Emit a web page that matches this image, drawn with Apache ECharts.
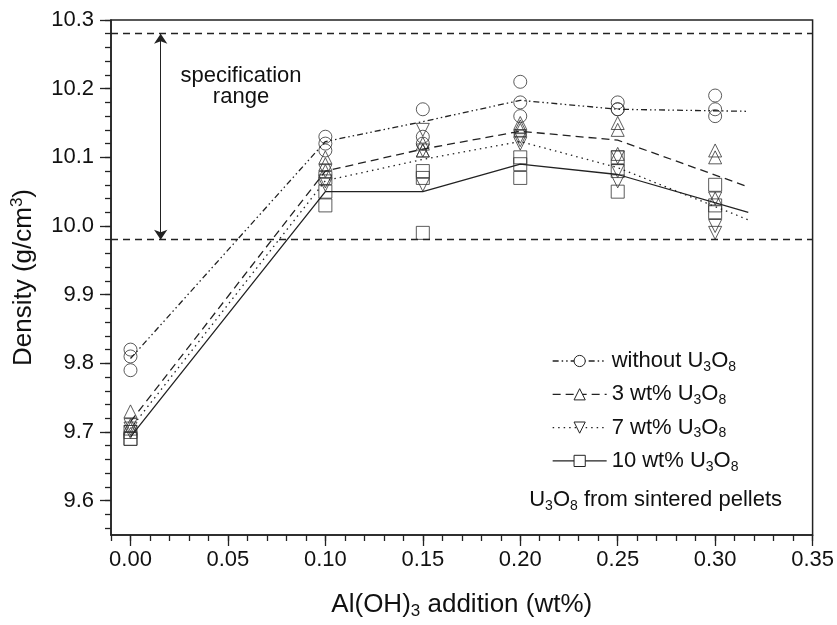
<!DOCTYPE html>
<html lang="en">
<head>
<meta charset="UTF-8">
<title>Density vs Al(OH)3 addition</title>
<script src="https://cdn.jsdelivr.net/npm/echarts@6.0.0/dist/echarts.min.js"></script>
<style>
    html, body { margin: 0; padding: 0; background: #fff; }
    #chart { width: 837px; height: 625px; }
</style>
</head>
<body>
<div id="chart"></div>
<script type="text/javascript">
// Al(OH)3 addition levels (wt%)
var xLevels = [0.00, 0.10, 0.15, 0.20, 0.25, 0.30];

// measured pellets, one row per addition level
var ptsNone = [[9.82, 9.81, 9.79], [10.13, 10.12, 10.11], [10.17, 10.13, 10.12], [10.21, 10.18, 10.16], [10.18, 10.17, 10.17], [10.19, 10.17, 10.16]];
var pts3 = [[9.73, 9.71, 9.705], [10.10, 10.09, 10.08], [10.12, 10.11, 10.11], [10.15, 10.145, 10.14], [10.15, 10.14, 10.105], [10.11, 10.10, 10.04]];
var pts7 = [[9.71, 9.705, 9.70], [10.08, 10.065, 10.06], [10.14, 10.11, 10.06], [10.13, 10.125, 10.12], [10.10, 10.08, 10.065], [10.04, 10.00, 9.99]];
var pts10 = [[9.70, 9.69, 9.69], [10.07, 10.05, 10.03], [10.08, 10.07, 9.99], [10.10, 10.09, 10.07], [10.10, 10.08, 10.05], [10.06, 10.03, 10.02]];

// trend lines (end a bit past 0.30)
var lineX = [0.00, 0.10, 0.15, 0.20, 0.25, 0.317];
var lineNone = [9.807, 10.123, 10.152, 10.183, 10.17, 10.167];
var line3 = [9.715, 10.08, 10.112, 10.138, 10.125, 10.057];
var line7 = [9.705, 10.066, 10.097, 10.123, 10.085, 10.009];
var line10 = [9.693, 10.05, 10.05, 10.09, 10.075, 10.02];

// specification range
var specHigh = 10.28;
var specLow = 9.98;
var arrowX = 0.0155;

// tick labels
var xTicks = [0.00, 0.05, 0.10, 0.15, 0.20, 0.25, 0.30, 0.35];
var yTicks = [9.6, 9.7, 9.8, 9.9, 10.0, 10.1, 10.2, 10.3];

var names = ['without U3O8', '3 wt% U3O8', '7 wt% U3O8', '10 wt% U3O8'];
var legendText = {
    'without U3O8': '{a|without U}{s|3}{a|O}{s|8}',
    '3 wt% U3O8': '{a|3 wt% U}{s|3}{a|O}{s|8}',
    '7 wt% U3O8': '{a|7 wt% U}{s|3}{a|O}{s|8}',
    '10 wt% U3O8': '{a|10 wt% U}{s|3}{a|O}{s|8}'
};

var FONT = "'Liberation Sans', Arial, sans-serif";
var INK = '#222';

function toPoints(rows) {
    var out = [];
    rows.forEach(function (r, i) {
        r.forEach(function (v) { out.push([xLevels[i], v]); });
    });
    return out;
}
function toLine(ys) {
    return lineX.map(function (x, i) { return [x, ys[i]]; });
}

// minor y ticks every 0.02
var yMinor = [];
for (var k = 0; k <= 37; k++) yMinor.push(+(9.56 + k * 0.02).toFixed(2));

var symbols = ['circle', 'triangle', 'path://M0,0L10,0L5,10Z', 'rect'];
var dashes = [[6, 3, 1.5, 3, 1.5, 3], [8, 5], [1.5, 4], 'solid'];
var allPts = [ptsNone, pts3, pts7, pts10];
var allLines = [lineNone, line3, line7, line10];

var series = [];
for (var g = 0; g < 4; g++) {
    series.push({
        name: names[g],
        type: 'line',
        data: toLine(allLines[g]),
        symbol: symbols[g],
        symbolSize: 13,
        showSymbol: false,
        itemStyle: { color: '#fff', borderColor: INK, borderWidth: 1 },
        lineStyle: { color: INK, width: 1.3, type: dashes[g] },
        z: 3
    });
    series.push({
        name: 'pts' + g,
        type: 'scatter',
        data: toPoints(allPts[g]),
        symbol: symbols[g],
        symbolSize: 13,
        itemStyle: { color: 'rgba(0,0,0,0)', borderColor: '#333', borderWidth: 1 },
        z: 2
    });
}

// dashed spec lines + double arrow
series[1].markLine = {
    silent: true,
    animation: false,
    symbol: ['none', 'none'],
    label: { show: false },
    data: [
        { yAxis: specHigh, lineStyle: { type: [7, 5], width: 1.3, color: INK } },
        { yAxis: specLow, lineStyle: { type: [7, 5], width: 1.3, color: INK } },
        [
            { coord: [arrowX, specHigh], symbol: 'arrow', symbolSize: 10, lineStyle: { type: 'solid', width: 1, color: INK } },
            { coord: [arrowX, specLow], symbol: 'arrow', symbolSize: 10 }
        ]
    ]
};

var chart = echarts.init(document.getElementById('chart'));
var option = {
    animation: false,
    backgroundColor: '#fff',
    textStyle: { fontFamily: FONT },
    grid: {
        left: 111, right: 22, top: 20, bottom: 86,
        show: true, borderColor: INK, borderWidth: 1.5
    },
    legend: {
        data: names,
        orient: 'vertical',
        left: 547,
        top: 345,
        itemWidth: 54,
        itemHeight: 14,
        itemGap: 9.3,
        selectedMode: false,
        itemStyle: { borderWidth: 1 },
        lineStyle: { width: 1.3 },
        formatter: function (name) { return legendText[name]; },
        textStyle: {
            color: '#111',
            rich: {
                a: { fontSize: 22, lineHeight: 26, fontFamily: FONT, color: '#111' },
                s: { fontSize: 14, lineHeight: 10, verticalAlign: 'bottom', fontFamily: FONT, color: '#111' }
            }
        }
    },
    xAxis: [
        {
            type: 'value',
            min: -0.01,
            max: 0.35,
            name: '{a|Al(OH)}{s|3}{a| addition (wt%)}',
            nameLocation: 'middle',
            nameGap: 55,
            nameTextStyle: {
                rich: {
                    a: { fontSize: 26, lineHeight: 30, color: '#111', fontFamily: FONT },
                    s: { fontSize: 17, lineHeight: 12, verticalAlign: 'bottom', color: '#111', fontFamily: FONT }
                }
            },
            axisLine: { onZero: false, lineStyle: { color: INK, width: 1.5 } },
            axisTick: { customValues: xTicks, length: 11, lineStyle: { color: INK, width: 1.3 } },
            axisLabel: {
                customValues: xTicks,
                fontSize: 22, color: '#111', margin: 14,
                formatter: function (v) { return v.toFixed(2); }
            },
            splitLine: { show: false }
        },
        {
            type: 'value',
            min: -0.01,
            max: 0.35,
            interval: 0.01,
            position: 'bottom',
            axisLine: { show: false, onZero: false },
            axisTick: { length: 6, lineStyle: { color: INK, width: 1.3 } },
            axisLabel: { show: false },
            splitLine: { show: false }
        }
    ],
    yAxis: [
        {
            type: 'value',
            min: 9.55,
            max: 10.3,
            name: '{a|Density (g/cm}{t|3}{a|)}',
            nameLocation: 'middle',
            nameGap: 72,
            nameTextStyle: {
                rich: {
                    a: { fontSize: 26, lineHeight: 30, color: '#111', fontFamily: FONT },
                    t: { fontSize: 17, lineHeight: 12, verticalAlign: 'top', color: '#111', fontFamily: FONT }
                }
            },
            axisLine: { onZero: false, lineStyle: { color: INK, width: 1.5 } },
            axisTick: { customValues: yTicks, length: 11, lineStyle: { color: INK, width: 1.3 } },
            axisLabel: {
                customValues: yTicks,
                fontSize: 22, color: '#111', margin: 17,
                formatter: function (v) { return v.toFixed(1); }
            },
            splitLine: { show: false }
        },
        {
            type: 'value',
            min: 9.55,
            max: 10.3,
            position: 'left',
            axisLine: { show: false, onZero: false },
            axisTick: { customValues: yMinor, length: 6, lineStyle: { color: INK, width: 1.3 } },
            axisLabel: { show: false },
            splitLine: { show: false }
        }
    ],
    graphic: [
        {
            type: 'text',
            x: 241,
            y: 86,
            style: {
                text: 'specification\nrange',
                font: '22px ' + FONT,
                fill: '#111',
                align: 'center',
                verticalAlign: 'middle',
                lineHeight: 21
            }
        },
        {
            type: 'text',
            x: 782,
            y: 500,
            style: {
                text: '{a|U}{s|3}{a|O}{s|8}{a| from sintered pellets}',
                align: 'right',
                verticalAlign: 'middle',
                rich: {
                    a: { fontSize: 22, lineHeight: 26, fontFamily: FONT, fill: '#111' },
                    s: { fontSize: 14, lineHeight: 10, verticalAlign: 'bottom', fontFamily: FONT, fill: '#111' }
                }
            }
        }
    ],
    series: series
};
chart.setOption(option);
window.onresize = chart.resize;
</script>
</body>
</html>
